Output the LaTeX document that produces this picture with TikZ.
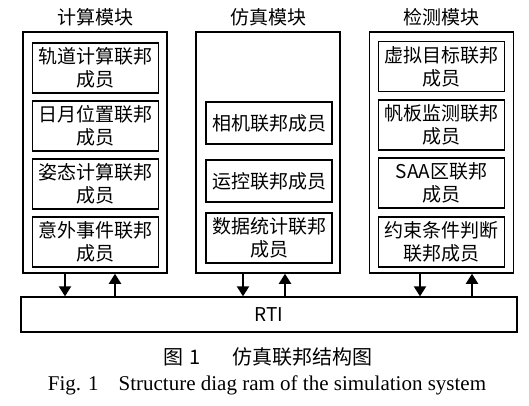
\documentclass[tikz,border=0pt]{standalone}
\usepackage{fontspec}
\setmainfont{Liberation Serif}
\newfontfamily\cjk{Noto Sans CJK SC}
\usetikzlibrary{arrows.meta,
                  positioning}

\begin{document}
\begin{tikzpicture}[x=1pt, y=1pt, every node/.style={font=\cjk\fontsize{19}{23}\selectfont}]
    \tikzset{
    module/.style= {draw, rectangle, line width=1.5pt, minimum width=144pt, minimum height=241pt},
    member/.style= {draw, rectangle, line width=1.5pt, align=center, minimum width=126pt, minimum height=50pt, inner sep=2pt},
    short/.style= {member, minimum height=42pt},
    bus/.style= {draw, rectangle, line width=1.3pt, minimum width=496pt, minimum height=35pt},
    line/.style = {draw, line width=2pt, -{Triangle[length=10pt,width=12pt]}}
}
\useasboundingbox (0,0) rectangle (529,405);

\node [module] (calc) at (95,252.5) {};
\node [module] (sim) at (268,252.5) {};
\node [module] (det) at (441.5,252.5) {};
\node [above of=calc, node distance=135pt] (calctitle) {计算模块};
\node [above of=sim, node distance=135pt] (simtitle) {仿真模块};
\node [above of=det, node distance=135pt] (dettitle) {检测模块};

\node [member] (orbit) at (95.5,337) {轨道计算联邦\\成员};
\node [member, below of=orbit, node distance=58pt] (sunmoon) {日月位置联邦\\成员};
\node [member, below of=sunmoon, node distance=58pt] (attitude) {姿态计算联邦\\成员};
\node [member, below of=attitude, node distance=58pt] (accident) {意外事件联邦\\成员};

\node [short] (camera) at (269,282) {相机联邦成员};
\node [short, below of=camera, node distance=58pt] (control) {运控联邦成员};
\node [member, below of=control, node distance=57pt] (stats) {数据统计联邦\\成员};

\node [member] (target) at (441.5,338.5) {虚拟目标联邦\\成员};
\node [member, below of=target, node distance=58.5pt] (panel) {帆板监测联邦\\成员};
\node [member, below of=panel, node distance=58pt] (saa) {SAA区联邦\\成员};
\node [member, below of=saa, node distance=59pt] (constraint) {约束条件判断\\联邦成员};

\node [bus] (rti) at (269,90.5) {RTI};

\node (captioncn) at (268,48) {\fontsize{20}{24}\selectfont 图\hspace{6pt}1\hspace{32pt}仿真联邦结构图};
\node (captionen) at (267,20) {\rmfamily\fontsize{21}{24}\selectfont Fig. 1\hspace{20pt}Structure diag ram of the simulation system};

\path [line] ([xshift=-30pt]calc.south) -- ([xshift=-30pt]calc.south |- rti.north);
\path [line] ([xshift=20pt]calc.south |- rti.north) -- ([xshift=20pt]calc.south);
\path [line] ([xshift=-25pt]sim.south) -- ([xshift=-25pt]sim.south |- rti.north);
\path [line] ([xshift=17pt]sim.south |- rti.north) -- ([xshift=17pt]sim.south);
\path [line] ([xshift=-21.5pt]det.south) -- ([xshift=-21.5pt]det.south |- rti.north);
\path [line] ([xshift=30.5pt]det.south |- rti.north) -- ([xshift=30.5pt]det.south);

\end{tikzpicture}
\end{document}
